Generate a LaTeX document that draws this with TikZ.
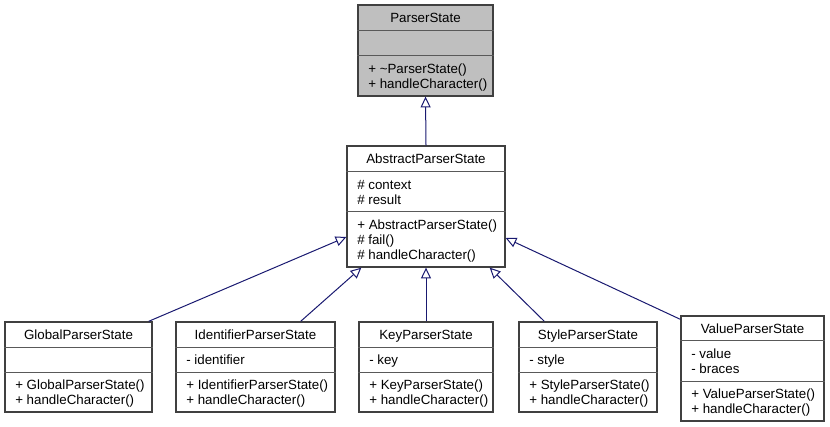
\documentclass[tikz,border=0pt]{standalone}
\usepackage{fontspec}
\setmainfont{Liberation Sans}
\usepackage{tikz}
\usetikzlibrary{calc,fit,arrows.meta}
\usepackage{xcolor}
\definecolor{edgeblue}{RGB}{25,25,112}
\definecolor{boxgray}{RGB}{191,191,191}

\begin{document}
\begin{tikzpicture}[x=0.75pt,y=-0.75pt,font=\fontsize{10}{12}\selectfont,
  classbox/.style={draw=black!75, line width=1pt, inner sep=0pt},
  sepline/.style={draw=black!65, line width=0.75pt},
  classtitle/.style={anchor=base, inner sep=0pt},
  classmember/.style={anchor=base west, inner sep=0pt},
  inherit/.style={draw=edgeblue, line width=0.75pt, -{Triangle[open, length=8pt, width=7.5pt]}}]
  \useasboundingbox (0,0) rectangle (830,427);

  % ParserState
  \node[classbox, fill=boxgray, fit={(358,5) (493,96)}] (ps) {};
  \draw[sepline] (ps.west |- 0,31) -- (ps.east |- 0,31);
  \draw[sepline] (ps.west |- 0,56) -- (ps.east |- 0,56);
  \node[classtitle] (psname) at (425.5,23) {ParserState};
  \node[classmember] (psm1) at (368,73.5) {+ \textasciitilde ParserState()};
  \node[classmember] (psm2) at (368,88.5) {+ handleCharacter()};

  % AbstractParserState
  \node[classbox, fit={(347,146) (505,267)}] (aps) {};
  \draw[sepline] (aps.west |- 0,172) -- (aps.east |- 0,172);
  \draw[sepline] (aps.west |- 0,212) -- (aps.east |- 0,212);
  \node[classtitle] (apsname) at (426,164) {AbstractParserState};
  \node[classmember] (apsa1) at (357,189.5) {\# context};
  \node[classmember] (apsa2) at (357,204.5) {\# result};
  \node[classmember] (apsm1) at (357,229.5) {+ AbstractParserState()};
  \node[classmember] (apsm2) at (357,244.5) {\# fail()};
  \node[classmember] (apsm3) at (357,259.5) {\# handleCharacter()};

  % GlobalParserState
  \node[classbox, fit={(5,322) (152,412)}] (gps) {};
  \draw[sepline] (gps.west |- 0,347) -- (gps.east |- 0,347);
  \draw[sepline] (gps.west |- 0,372) -- (gps.east |- 0,372);
  \node[classtitle] (gpsname) at (78.5,339.5) {GlobalParserState};
  \node[classmember] (gpsm1) at (15,389.5) {+ GlobalParserState()};
  \node[classmember] (gpsm2) at (15,404.5) {+ handleCharacter()};

  % IdentifierParserState
  \node[classbox, fit={(176,322) (335,412)}] (ips) {};
  \draw[sepline] (ips.west |- 0,347) -- (ips.east |- 0,347);
  \draw[sepline] (ips.west |- 0,372) -- (ips.east |- 0,372);
  \node[classtitle] (ipsname) at (255.5,339.5) {IdentifierParserState};
  \node[classmember] (ipsa1) at (186,364.5) {- identifier};
  \node[classmember] (ipsm1) at (186,389.5) {+ IdentifierParserState()};
  \node[classmember] (ipsm2) at (186,404.5) {+ handleCharacter()};

  % KeyParserState
  \node[classbox, fit={(359,322) (493,412)}] (kps) {};
  \draw[sepline] (kps.west |- 0,347) -- (kps.east |- 0,347);
  \draw[sepline] (kps.west |- 0,372) -- (kps.east |- 0,372);
  \node[classtitle] (kpsname) at (426,339.5) {KeyParserState};
  \node[classmember] (kpsa1) at (369,364.5) {- key};
  \node[classmember] (kpsm1) at (369,389.5) {+ KeyParserState()};
  \node[classmember] (kpsm2) at (369,404.5) {+ handleCharacter()};

  % StyleParserState
  \node[classbox, fit={(519,322) (657,412)}] (sps) {};
  \draw[sepline] (sps.west |- 0,347) -- (sps.east |- 0,347);
  \draw[sepline] (sps.west |- 0,372) -- (sps.east |- 0,372);
  \node[classtitle] (spsname) at (588,339.5) {StyleParserState};
  \node[classmember] (spsa1) at (529,364.5) {- style};
  \node[classmember] (spsm1) at (529,389.5) {+ StyleParserState()};
  \node[classmember] (spsm2) at (529,404.5) {+ handleCharacter()};

  % ValueParserState
  \node[classbox, fit={(681,316) (824,421)}] (vps) {};
  \draw[sepline] (vps.west |- 0,340) -- (vps.east |- 0,340);
  \draw[sepline] (vps.west |- 0,381) -- (vps.east |- 0,381);
  \node[classtitle] (vpsname) at (752.5,333) {ValueParserState};
  \node[classmember] (vpsa1) at (691,358) {- value};
  \node[classmember] (vpsa2) at (691,373) {- braces};
  \node[classmember] (vpsm1) at (691,398.5) {+ ValueParserState()};
  \node[classmember] (vpsm2) at (691,413.5) {+ handleCharacter()};

  % inheritance
  \draw[inherit] (aps.north) -- (ps.south);
  \draw[inherit] ($(gps.north east)+(-4,0)$) -- ($(aps.west)+(0,30.5)$);
  \draw[inherit] ($(ips.north east)+(-35,0)$) -- ($(aps.south west)+(15,0)$);
  \draw[inherit] (kps.north) -- (aps.south);
  \draw[inherit] ($(sps.north west)+(26,0)$) -- ($(aps.south east)+(-16,0)$);
  \draw[inherit] ($(vps.north west)+(0,4)$) -- ($(aps.east)+(0,31.5)$);
\end{tikzpicture}
\end{document}
